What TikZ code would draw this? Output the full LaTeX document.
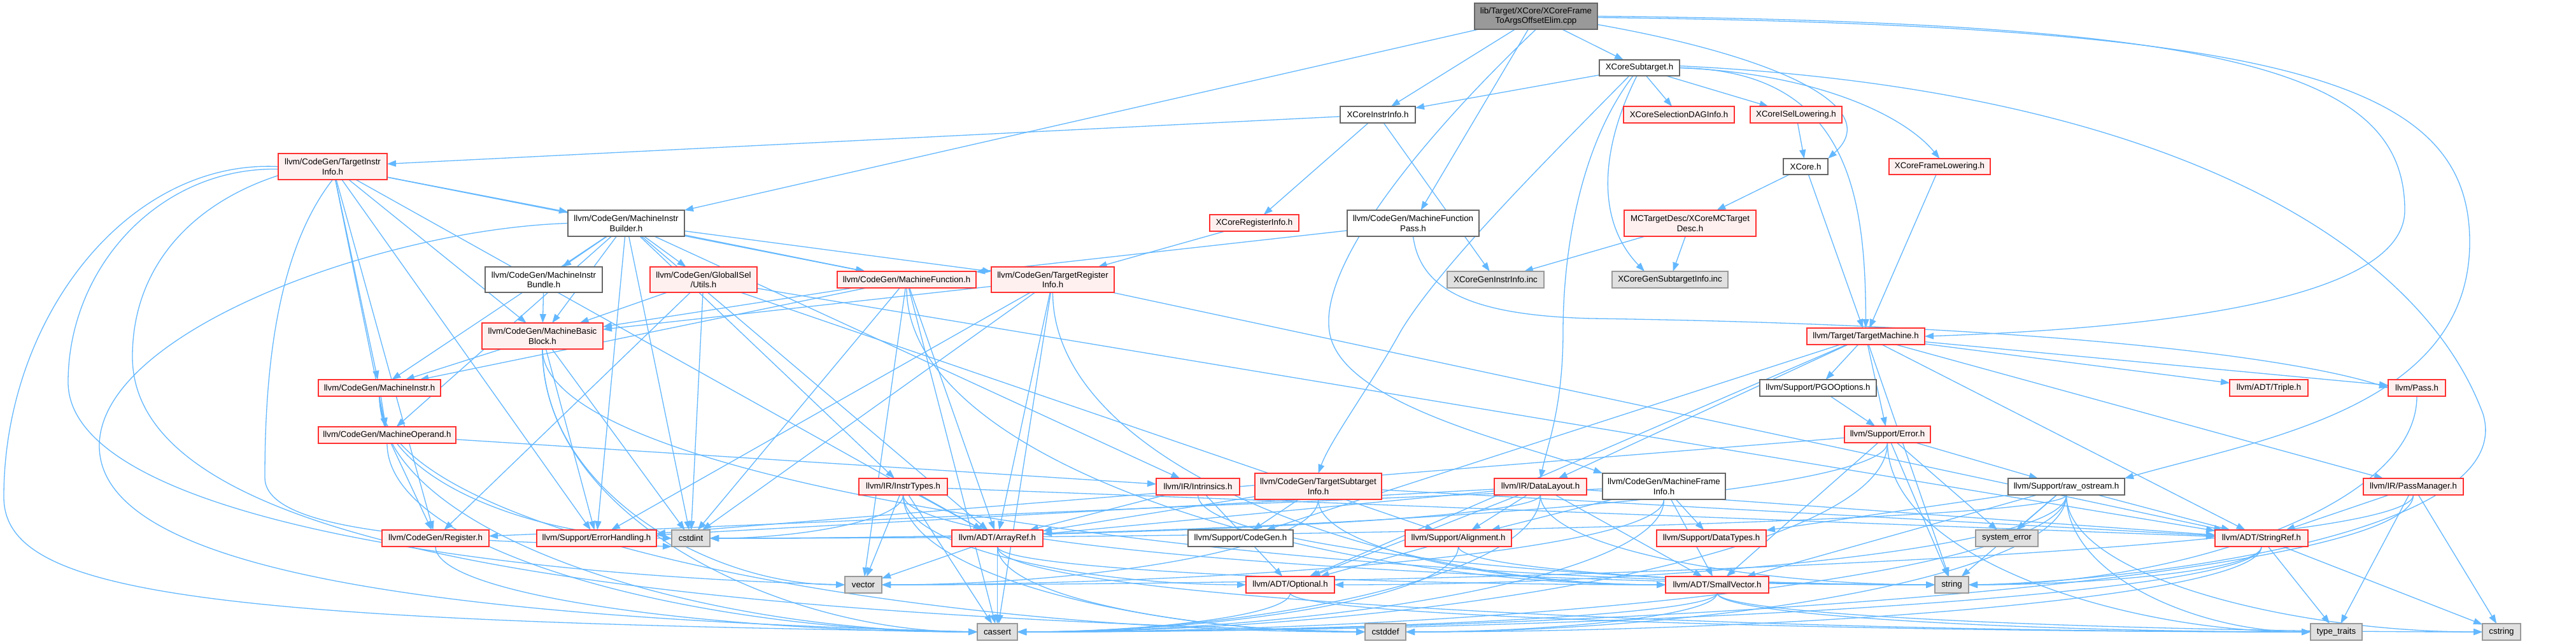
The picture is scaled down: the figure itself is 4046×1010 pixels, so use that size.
\documentclass[tikz,border=0pt]{standalone}
\usepackage{fontspec}
\setmainfont{Liberation Sans}
\usetikzlibrary{arrows.meta,calc}
\pgfdeclarelayer{bg}
\pgfsetlayers{bg,main}
\definecolor{edgec}{HTML}{63B8FF}
\definecolor{redfill}{HTML}{FFF0F0}
\definecolor{redline}{HTML}{FF3030}
\definecolor{greyforty}{HTML}{666666}
\definecolor{greysixty}{HTML}{999999}
\definecolor{sysfill}{HTML}{E0E0E0}
\tikzset{
 nbase/.style={rectangle, inner sep=0pt, outer sep=0pt, line width=1.6pt, font=\fontsize{13.3pt}{15.5pt}\selectfont, align=center},
 rednode/.style={nbase, draw=redline, fill=redfill},
 whitenode/.style={nbase, draw=greyforty, fill=white},
 sysnode/.style={nbase, draw=greysixty, fill=sysfill},
 rootnode/.style={nbase, draw=greyforty, fill=greysixty},
 dep/.style={draw=edgec, line width=1.3pt, -{Triangle[length=14pt,width=10pt]}},
}
\newcommand{\nd}[7]{\node[#1, minimum width={(#5-#3)*1pt}, minimum height={(#6-#4)*1pt}] (#2) at ({(#3+#5)/2},{(#4+#6)/2}) {#7};}
\newcommand{\toL}[2]{\draw[dep] let \p1=(#1.south), \p2=(#2.west) in (\p1) .. controls (\x1,{0.4*\y1+0.6*\y2}) and ({0.55*\x2+0.45*\x1},\y2) .. (\p2);}
\newcommand{\toR}[2]{\draw[dep] let \p1=(#1.south), \p2=(#2.east) in (\p1) .. controls (\x1,{0.4*\y1+0.6*\y2}) and ({0.55*\x2+0.45*\x1},\y2) .. (\p2);}
\begin{document}
\begin{tikzpicture}[x=1pt,y=-1pt]
\useasboundingbox (0,0) rectangle (4046,1010);
\nd{rootnode}{root}{2316}{5}{2509}{46}{lib/Target/XCore/XCoreFrame\\ToArgsOffsetElim.cpp}
\nd{whitenode}{sub}{2512}{94}{2638}{119}{XCoreSubtarget.h}
\nd{whitenode}{iinfo}{2105}{167}{2223}{193}{XCoreInstrInfo.h}
\nd{rednode}{dag}{2550}{167}{2724}{193}{XCoreSelectionDAGInfo.h}
\nd{rednode}{isel}{2749}{167}{2893}{193}{XCoreISelLowering.h}
\nd{whitenode}{xcore}{2801}{249}{2871}{274}{XCore.h}
\nd{rednode}{frl}{2967}{249}{3126}{274}{XCoreFrameLowering.h}
\nd{rednode}{tii}{437}{241}{608}{282}{llvm/CodeGen/TargetInstr\\Info.h}
\nd{whitenode}{mib}{892}{330}{1075}{371}{llvm/CodeGen/MachineInstr\\Builder.h}
\nd{whitenode}{mfp}{2116}{330}{2323}{371}{llvm/CodeGen/MachineFunction\\Pass.h}
\nd{rednode}{mctd}{2551}{330}{2758}{371}{MCTargetDesc/XCoreMCTarget\\Desc.h}
\nd{rednode}{reginfo}{1900}{337}{2040}{363}{XCoreRegisterInfo.h}
\nd{whitenode}{mibundle}{762}{419}{946}{459}{llvm/CodeGen/MachineInstr\\Bundle.h}
\nd{rednode}{gisel}{1021}{419}{1189}{459}{llvm/CodeGen/GlobalISel\\/Utils.h}
\nd{rednode}{mf}{1315}{426}{1533}{452}{llvm/CodeGen/MachineFunction.h}
\nd{rednode}{tri}{1557}{419}{1750}{459}{llvm/CodeGen/TargetRegister\\Info.h}
\nd{sysnode}{geninstr}{2273}{426}{2425}{452}{XCoreGenInstrInfo.inc}
\nd{sysnode}{gensub}{2532}{426}{2714}{452}{XCoreGenSubtargetInfo.inc}
\nd{rednode}{mbb}{757}{507}{947}{548}{llvm/CodeGen/MachineBasic\\Block.h}
\nd{rednode}{tm}{2838}{515}{3023}{541}{llvm/Target/TargetMachine.h}
\nd{rednode}{mi}{500}{596}{692}{622}{llvm/CodeGen/MachineInstr.h}
\nd{whitenode}{pgo}{2764}{596}{2947}{622}{llvm/Support/PGOOptions.h}
\nd{rednode}{triple}{3502}{596}{3625}{622}{llvm/ADT/Triple.h}
\nd{rednode}{pass}{3751}{596}{3841}{622}{llvm/Pass.h}
\nd{rednode}{mo}{500}{670}{716}{696}{llvm/CodeGen/MachineOperand.h}
\nd{rednode}{err}{2897}{669}{3032}{695}{llvm/Support/Error.h}
\nd{rednode}{tsi}{1971}{743}{2170}{784}{llvm/CodeGen/TargetSubtarget\\Info.h}
\nd{rednode}{instrtypes}{1349}{751}{1488}{777}{llvm/IR/InstrTypes.h}
\nd{rednode}{intrinsics}{1816}{751}{1947}{777}{llvm/IR/Intrinsics.h}
\nd{rednode}{dl}{2347}{751}{2492}{777}{llvm/IR/DataLayout.h}
\nd{whitenode}{mfi}{2517}{743}{2710}{784}{llvm/CodeGen/MachineFrame\\Info.h}
\nd{whitenode}{raw}{3154}{751}{3337}{777}{llvm/Support/raw\_ostream.h}
\nd{rednode}{pm}{3712}{751}{3869}{777}{llvm/IR/PassManager.h}
\nd{rednode}{reg}{600}{832}{768}{858}{llvm/CodeGen/Register.h}
\nd{rednode}{eh}{843}{832}{1031}{858}{llvm/Support/ErrorHandling.h}
\nd{sysnode}{cstdint}{1055}{832}{1115}{858}{cstdint}
\nd{rednode}{arrayref}{1495}{832}{1638}{858}{llvm/ADT/ArrayRef.h}
\nd{whitenode}{codegen}{1866}{832}{2031}{858}{llvm/Support/CodeGen.h}
\nd{rednode}{align}{2207}{832}{2374}{858}{llvm/Support/Alignment.h}
\nd{rednode}{datatypes}{2602}{832}{2774}{858}{llvm/Support/DataTypes.h}
\nd{sysnode}{syserr}{3103}{832}{3201}{858}{system\_error}
\nd{rednode}{stringref}{3479}{832}{3625}{858}{llvm/ADT/StringRef.h}
\nd{sysnode}{vector}{1327}{905}{1385}{931}{vector}
\nd{rednode}{optional}{1957}{905}{2096}{931}{llvm/ADT/Optional.h}
\nd{rednode}{smallvec}{2616}{905}{2778}{931}{llvm/ADT/SmallVector.h}
\nd{sysnode}{string}{3039}{905}{3092}{931}{string}
\nd{sysnode}{cassert}{1535}{979}{1598}{1005}{cassert}
\nd{sysnode}{cstddef}{2144}{979}{2208}{1005}{cstddef}
\nd{sysnode}{typetraits}{3629}{979}{3710}{1005}{type\_traits}
\nd{sysnode}{cstring}{3899}{979}{3959}{1005}{cstring}
\begin{pgfonlayer}{bg}
\fill[white] (0,0) rectangle (4046,1010);
% root
\foreach \t in {sub,iinfo,mib,mfp} {\draw[dep] (root) -- (\t);}
\draw[dep] ([yshift=-13pt]root.east) .. controls (2800,90) and (2960,170) .. (xcore.north east);
\draw[dep] (root.south) .. controls (2250,200) and (2060,420) .. (2090,530) .. controls (2120,640) and (2400,700) .. (mfi.north west);
\draw[dep] (root.east) .. controls (3500,35) and (3777,110) .. (3777,330) .. controls (3777,470) and (3400,515) .. (tm.east);
\draw[dep] ([yshift=-2pt]root.east) .. controls (3600,40) and (3879,130) .. (3879,380) .. controls (3879,640) and (3550,690) .. (raw.north east);
% XCoreSubtarget
\foreach \t in {iinfo,dag,isel} {\draw[dep] (sub) -- (\t);}
\draw[dep] ([xshift=-4pt]sub.south) .. controls (2520,220) and (2500,340) .. ([xshift=-40pt]gensub.north);
\draw[dep] ([xshift=-10pt]sub.south) .. controls (2480,230) and (2455,400) .. (2455,520) .. controls (2455,640) and (2430,700) .. (dl.north);
\draw[dep] ([xshift=-16pt]sub.south) .. controls (2420,260) and (2260,420) .. (2200,520) .. controls (2150,610) and (2090,690) .. (tsi.north);
\draw[dep] (sub.east) .. controls (2850,115) and (2990,180) .. (frl.north);
\draw[dep] (sub.east) .. controls (2900,110) and (2930,300) .. (tm.north);
\draw[dep] ([yshift=3pt]sub.east) .. controls (3400,140) and (3800,380) .. (3900,650) .. controls (3960,850) and (3300,915) .. (string.east);
% upper part
\foreach \t in {tii,reginfo,geninstr} {\draw[dep] (iinfo) -- (\t);}
\draw[dep] (isel) -- (xcore);
\foreach \t in {mctd,tm} {\draw[dep] (xcore) -- (\t);}
\draw[dep] (frl) -- (tm);
\foreach \t in {geninstr,gensub} {\draw[dep] (mctd) -- (\t);}
\draw[dep] (reginfo) -- (tri);
\draw[dep] (mfp) -- (mf);
\draw[dep] (mfp.south) .. controls (2230,450) and (2300,495) .. (2500,500) .. controls (3200,510) and (3600,560) .. (pass.west);
% TargetInstrInfo
\foreach \t in {mib,mbb,mf,mi,mo,reg,arrayref,eh} {\draw[dep] (tii) -- (\t);}
\draw[dep] (tii.west) .. controls (200,250) and (6,500) .. (6,780) .. controls (6,930) and (300,975) .. (cassert.west);
\draw[dep] ([yshift=-4pt]tii.west) .. controls (250,262) and (107,420) .. (107,600) .. controls (107,800) and (700,900) .. (vector.west);
\draw[dep] ([yshift=-14pt]tii.west) .. controls (300,320) and (208,420) .. (208,560) .. controls (208,850) and (900,960) .. (cstddef.west);
\draw[dep] (tii.south) .. controls (430,400) and (416,600) .. (416,750) .. controls (416,850) and (800,850) .. (cstdint.south west);
% MachineInstrBuilder
\foreach \t in {arrayref,gisel,mbb,mf,mi,mibundle,mo,tri,instrtypes,intrinsics,eh,cstdint} {\draw[dep] (mib) -- (\t);}
\draw[dep] (mib.west) .. controls (600,360) and (156,520) .. (156,700) .. controls (156,900) and (700,970) .. (cassert.west);
% middle, straight
\draw[dep] (mibundle) -- (mbb);
\foreach \t in {mbb,reg,align,stringref,cstdint} {\draw[dep] (gisel) -- (\t);}
\foreach \t in {mbb,mi,arrayref,cstdint,vector,cassert} {\draw[dep] (mf) -- (\t);}
\foreach \t in {arrayref,stringref,mbb,eh,cstdint,cassert} {\draw[dep] (tri) -- (\t);}
\foreach \t in {mi,eh,cstdint} {\draw[dep] (mbb) -- (\t);}
\draw[dep] (mi) -- (mo);
\foreach \t in {reg,intrinsics} {\draw[dep] (mo) -- (\t);}
\foreach \t in {arrayref,stringref,vector,cassert} {\draw[dep] (instrtypes) -- (\t);}
\foreach \t in {arrayref,optional} {\draw[dep] (intrinsics) -- (\t);}
\foreach \t in {codegen,arrayref,stringref} {\draw[dep] (tsi) -- (\t);}
\foreach \t in {arrayref,stringref,align,eh,optional,smallvec} {\draw[dep] (dl) -- (\t);}
\foreach \t in {reg,align,datatypes,smallvec} {\draw[dep] (mfi) -- (\t);}
\draw[dep] (align) -- (optional);
\foreach \t in {stringref,triple,dl,pm,codegen,err,pgo,pass,string,optional} {\draw[dep] (tm) -- (\t);}
\draw[dep] (pgo) -- (err);
\foreach \t in {eh,raw,syserr,string,smallvec} {\draw[dep] (err) -- (\t);}
\foreach \t in {stringref,datatypes,syserr,string,smallvec} {\draw[dep] (raw) -- (\t);}
\foreach \t in {stringref,typetraits,cstring} {\draw[dep] (pm) -- (\t);}
\foreach \t in {typetraits,cstring} {\draw[dep] (stringref) -- (\t);}
\foreach \t in {vector,cassert} {\draw[dep] (arrayref) -- (\t);}
% curved into lower targets
\foreach \s in {mbb,mi,mo,reg} {\toL{\s}{cassert}}
\foreach \s in {dl,mfi,align,err,raw,pm,stringref,smallvec,optional} {\toR{\s}{cassert}}
\foreach \s in {mi,instrtypes,arrayref} {\toL{\s}{cstddef}}
\foreach \s in {raw,stringref,smallvec} {\toR{\s}{cstddef}}
\toL{mbb}{vector}
\foreach \s in {tsi,mfi,pm} {\toR{\s}{vector}}
\foreach \s in {mbb,instrtypes,intrinsics,dl,align} {\toL{\s}{string}}
\foreach \s in {pass,stringref} {\toR{\s}{string}}
\foreach \s in {err,raw,arrayref,smallvec,optional} {\toL{\s}{typetraits}}
\foreach \s in {raw,smallvec} {\toL{\s}{cstring}}
\toL{instrtypes}{optional}
\toR{raw}{optional}
\foreach \s in {arrayref,tsi,mf,tri} {\toL{\s}{smallvec}}
\toL{mi}{cstdint}
\foreach \s in {instrtypes,dl,err,raw} {\toR{\s}{cstdint}}
\end{pgfonlayer}
\end{tikzpicture}
\end{document}
